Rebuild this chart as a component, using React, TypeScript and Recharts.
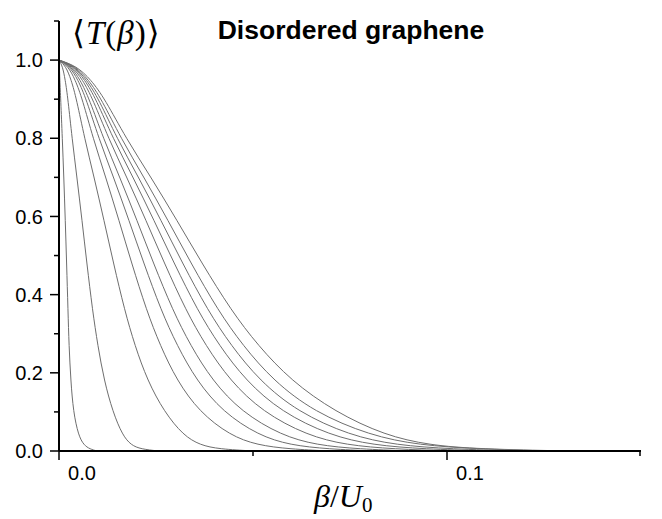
import { LineChart, Line, XAxis, YAxis } from 'recharts'

const levels = [1, 0.985, 0.95, 0.9, 0.8, 0.7, 0.59, 0.48, 0.36, 0.27, 0.18, 0.1, 0.04, 0.015, 0.005, 0]

const beta1 = [0, 0.0001, 0.00021, 0.00044, 0.00085, 0.00124, 0.00162, 0.00196, 0.00232, 0.00258, 0.00304, 0.0037, 0.005, 0.0064, 0.008, 0.0098]
const beta2 = [0, 0.00088, 0.00161, 0.00231, 0.00337, 0.00462, 0.00593, 0.00718, 0.00864, 0.00999, 0.01165, 0.01387, 0.01638, 0.01859, 0.0211, 0.02567]
const beta3 = [0, 0.00172, 0.00314, 0.00452, 0.00659, 0.00905, 0.0116, 0.01406, 0.01691, 0.01955, 0.0228, 0.02713, 0.03204, 0.03637, 0.04127, 0.05021]
const beta4 = [0, 0.00229, 0.00419, 0.00603, 0.00878, 0.01206, 0.01546, 0.01874, 0.02255, 0.02607, 0.0304, 0.03617, 0.04407, 0.05103, 0.05954, 0.06959]
const beta5 = [0, 0.00267, 0.00489, 0.00704, 0.01025, 0.01407, 0.01804, 0.02187, 0.0263, 0.03042, 0.03547, 0.0422, 0.05142, 0.05954, 0.06946, 0.08118]
const beta6 = [0, 0.00298, 0.00545, 0.00784, 0.01142, 0.01568, 0.0201, 0.02436, 0.02931, 0.03389, 0.03952, 0.04702, 0.05729, 0.06634, 0.0774, 0.09046]
const beta7 = [0, 0.00332, 0.00608, 0.00874, 0.01274, 0.01749, 0.02242, 0.02718, 0.03269, 0.0378, 0.04408, 0.05245, 0.06391, 0.074, 0.08633, 0.1009]
const beta8 = [0, 0.00362, 0.00664, 0.00955, 0.01391, 0.0191, 0.02449, 0.02968, 0.0357, 0.04128, 0.04814, 0.05727, 0.06978, 0.0808, 0.09427, 0.11018]
const beta9 = [0, 0.00389, 0.00712, 0.01025, 0.01493, 0.02051, 0.02629, 0.03186, 0.03833, 0.04432, 0.05168, 0.06149, 0.07492, 0.08675, 0.10121, 0.1183]
const beta10 = [0, 0.00416, 0.00761, 0.01096, 0.01596, 0.02191, 0.02809, 0.03405, 0.04096, 0.04737, 0.05523, 0.06571, 0.08007, 0.09271, 0.10816, 0.12642]
const beta11 = [0, 0.0045, 0.00824, 0.01186, 0.01727, 0.02372, 0.03041, 0.03686, 0.04434, 0.05127, 0.05979, 0.07113, 0.08403, 0.09537, 0.10824, 0.13168]

const curves = [beta1, beta2, beta3, beta4, beta5, beta6, beta7, beta8, beta9, beta10, beta11]

const yTicks = [0, 0.1, 0.2, 0.3, 0.4, 0.5, 0.6, 0.7, 0.8, 0.9, 1.0, 1.1]
const xTicks = [0, 0.05, 0.1, 0.15]
const xLabelled = [0, 0.1]

const W = 646
const H = 511
const AXIS_X = 51
const AXIS_Y = 443
const SANS = '"Liberation Sans", Arial, sans-serif'
const SERIF = '"Liberation Serif", "DejaVu Serif", serif'

function YTick({ y, payload }: any) {
  const v = payload.value
  const major = Math.round(v * 10) % 2 === 0
  return (
    <g>
      <line x1={AXIS_X - (major ? 9 : 5)} x2={AXIS_X} y1={y} y2={y} stroke="#000" strokeWidth={1.5} />
      {major && (
        <text x={AXIS_X - 16} y={y} dy="0.36em" textAnchor="end" fontFamily={SANS} fontSize={20} fill="#000">
          {v.toFixed(1)}
        </text>
      )}
    </g>
  )
}

function XTick({ x, payload }: any) {
  const v = payload.value
  const major = xLabelled.includes(v)
  return (
    <g>
      <line x1={x} x2={x} y1={AXIS_Y} y2={AXIS_Y + (major ? 9 : 5)} stroke="#000" strokeWidth={1.5} />
      {major && (
        <text x={x + 23} y={AXIS_Y + 22} dy="0.36em" textAnchor="middle" fontFamily={SANS} fontSize={20} fill="#000">
          {v.toFixed(1)}
        </text>
      )}
    </g>
  )
}

export default function App() {
  const series = curves.map((b) => b.map((x, i) => ({ b: x, t: levels[i] })))

  return (
    <div style={{ position: 'relative', width: W, height: H }}>
      <LineChart width={W} height={H} margin={{ top: 13, right: 13, left: 0, bottom: 0 }}>
        <XAxis
          type="number"
          dataKey="b"
          domain={[0, 0.15]}
          ticks={xTicks}
          tick={<XTick />}
          tickLine={false}
          axisLine={{ stroke: '#000', strokeWidth: 2 }}
          height={68}
          allowDataOverflow
        />
        <YAxis
          type="number"
          domain={[0, 1.1]}
          ticks={yTicks}
          tick={<YTick />}
          tickLine={false}
          axisLine={{ stroke: '#000', strokeWidth: 2 }}
          width={51}
          allowDataOverflow
        />
        {series.map((d, i) => (
          <Line
            key={i}
            data={d}
            dataKey="t"
            type="basis"
            stroke="#6e6e6e"
            strokeWidth={1}
            dot={false}
            isAnimationActive={false}
          />
        ))}
      </LineChart>
      <svg width={W} height={H} style={{ position: 'absolute', left: 0, top: 0, pointerEvents: 'none' }}>
        <text x={343} y={31} textAnchor="middle" fontFamily={SANS} fontWeight="bold" fontSize={26.5} fill="#000">
          Disordered graphene
        </text>
        <text x={64} y={36} fontFamily={SERIF} fontSize={33} letterSpacing={1} fill="#000">
          <tspan>⟨</tspan>
          <tspan fontStyle="italic">T</tspan>
          <tspan>(</tspan>
          <tspan fontStyle="italic">β</tspan>
          <tspan>)⟩</tspan>
        </text>
        <text x={306} y={499} fontFamily={SERIF} fontSize={32} fill="#000">
          <tspan fontStyle="italic">β</tspan>
          <tspan>/</tspan>
          <tspan fontStyle="italic">U</tspan>
          <tspan fontSize={21} dy={5}>0</tspan>
        </text>
      </svg>
    </div>
  )
}
